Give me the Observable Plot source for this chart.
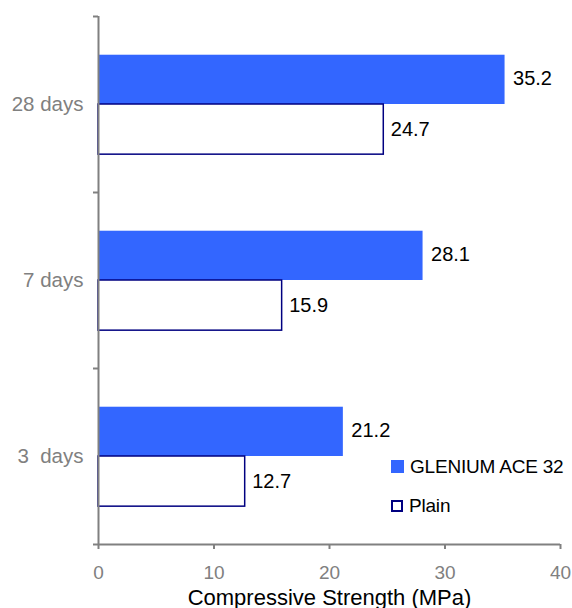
<!DOCTYPE html>
<html>
<head>
<meta charset="utf-8">
<script src="https://cdn.jsdelivr.net/npm/d3@7"></script>
<script src="https://cdn.jsdelivr.net/npm/@observablehq/plot@0.6"></script>
<style>
  html, body { margin: 0; padding: 0; background: #fff; }
  #wrap { position: relative; width: 572px; height: 608px; font-family: "Liberation Sans", Arial, sans-serif; }
  .leg { position: absolute; display: flex; align-items: center; font-size: 19px; letter-spacing: -0.2px; color: #000; line-height: 1; }
  .sw { width: 13px; height: 13px; box-sizing: border-box; margin-right: 6px; }
</style>
</head>
<body>
<div id="wrap"></div>
<script>
const categories = ["3\u00a0 days", "7 days", "28 days"];
const series = ["GLENIUM ACE 32", "Plain"];
const glenium = [21.2, 28.1, 35.2];
const plain = [12.7, 15.9, 24.7];
const xTicks = [0, 10, 20, 30, 40];
const axisTitle = "Compressive Strength (MPa)";

const blue = "#3366FF";
const navy = "#000080";
const gray = "#808080";

const gData = categories.map((c, i) => ({cat: c, i, value: glenium[i]}));
const pData = categories.map((c, i) => ({cat: c, i, value: plain[i]}));
const catIdx = categories.map((c, i) => i);

const chart = Plot.plot({
  width: 572,
  height: 608,
  marginLeft: 98,
  marginRight: 12,
  marginTop: 16,
  marginBottom: 64,
  style: {fontFamily: "Liberation Sans, Arial, sans-serif", fontSize: "19px", background: "#fff"},
  x: {domain: [0, 40]},
  y: {domain: [0, 3]},
  marks: [
    Plot.rectX(gData, {x1: 0, x2: "value", y1: d => d.i + 0.5, y2: d => d.i + 0.78, fill: blue}),
    Plot.rectX(pData, {x1: 0, x2: "value", y1: d => d.i + 0.215, y2: d => d.i + 0.5, fill: "#fff", stroke: navy, strokeWidth: 1.5}),
    Plot.ruleX([0], {stroke: gray, strokeWidth: 2}),
    Plot.ruleY([0], {stroke: gray, strokeWidth: 2}),
    Plot.axisX({ticks: xTicks, tickSize: 5, tickPadding: 16, stroke: gray, color: gray, strokeWidth: 2, fontSize: 19, label: null}),
    Plot.axisY({ticks: [0, 1, 2, 3], tickSize: 5, tickFormat: () => "", stroke: gray, strokeWidth: 2, label: null}),
    Plot.axisY({ticks: catIdx.map(i => i + 0.5), tickSize: 0, tickPadding: 15, tickFormat: v => categories[Math.floor(v)], color: gray, fontSize: 20.5, label: null}),
    Plot.text(gData, {x: "value", y: d => d.i + 0.645, text: d => d.value.toFixed(1), dx: 8, textAnchor: "start", fill: "#000", fontSize: 20}),
    Plot.text(pData, {x: "value", y: d => d.i + 0.36, text: d => d.value.toFixed(1), dx: 7, textAnchor: "start", fill: "#000", fontSize: 20}),
    Plot.text([axisTitle], {frameAnchor: "bottom", dy: 60, text: d => d, fill: "#000", fontSize: 22, letterSpacing: "1.1px"})
  ]
});

const wrap = document.getElementById("wrap");
wrap.appendChild(chart);

const legendPos = [{top: 457, left: 391}, {top: 496, left: 391}];
series.forEach((s, k) => {
  const row = document.createElement("div");
  row.className = "leg";
  row.style.top = legendPos[k].top + "px";
  row.style.left = legendPos[k].left + "px";
  const sw = document.createElement("div");
  sw.className = "sw";
  if (k === 0) { sw.style.background = blue; }
  else { sw.style.background = "#fff"; sw.style.border = "2px solid " + navy; sw.style.width = "12px"; sw.style.height = "12px"; }
  row.appendChild(sw);
  const t = document.createElement("span");
  t.textContent = s;
  row.appendChild(t);
  wrap.appendChild(row);
});
</script>
</body>
</html>
